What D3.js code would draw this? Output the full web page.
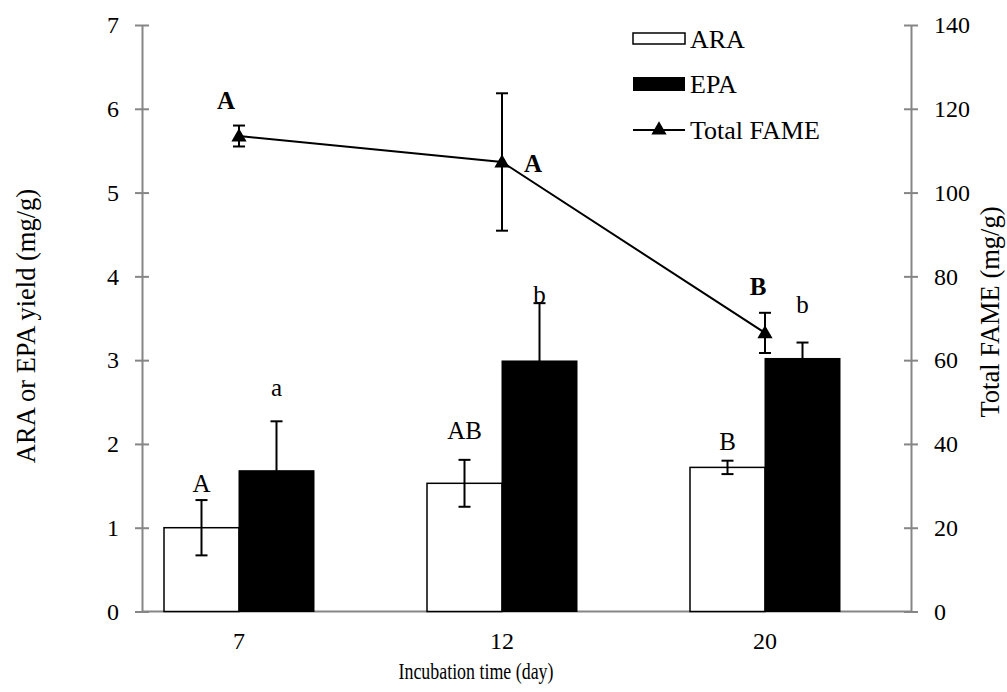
<!DOCTYPE html>
<html>
<head>
<meta charset="utf-8">
<script src="https://cdn.jsdelivr.net/npm/d3@7"></script>
<style>
    body { margin: 0; background: #fff; }
    text { font-family: "Liberation Serif", "Times New Roman", serif; fill: #000; }
</style>
</head>
<body>
<script>
// incubation time categories
var days = ["7", "12", "20"];

// ARA / EPA yield (mg/g), left axis
var ara = [1.00, 1.53, 1.72];
var araErr = [0.33, 0.28, 0.08];
var epa = [1.68, 2.99, 3.02];
var epaErr = [0.59, 0.69, 0.19];

// total FAME (mg/g), right axis
var fame = [113.5, 107.3, 66.5];
var fameErr = [2.5, 16.4, 4.8];

// significance letters
var araLetters = ["A", "AB", "B"];
var epaLetters = ["a", "b", "b"];
var fameLetters = ["A", "A", "B"];

var leftTicks = [0, 1, 2, 3, 4, 5, 6, 7];
var rightTicks = [0, 20, 40, 60, 80, 100, 120, 140];

// letter nudges in px (layout only)
var araNudge = [8, 21, 11];
var epaNudge = [25, 0, 30];
var fameNudge = [[-13, -17], [31, 10], [-7, -18]];

var W = 1007, H = 692;
var margin = {top: 25, right: 96, bottom: 80.5, left: 142};
var width = W - margin.left - margin.right,
    height = H - margin.top - margin.bottom;

var FONT = "Liberation Serif";
var tickFs = 24, titleFs = 26.5, legendFs = 26, letterFs = 25;

var svg = d3.select("body").append("svg")
    .attr("width", W)
    .attr("height", H);

var g = svg.append("g")
    .attr("transform", "translate(" + margin.left + "," + margin.top + ")");

var x = d3.scalePoint()
    .domain(days)
    .range([97, 623]);

var barW = 75;

var y = d3.scaleLinear().domain([0, 7]).range([height, 0]);
var y2 = d3.scaleLinear().domain([0, 140]).range([height, 0]);

var axisColor = "#868686";

// x axis line (no ticks)
g.append("line")
    .attr("x1", 0).attr("x2", width)
    .attr("y1", height).attr("y2", height)
    .attr("stroke", axisColor).attr("stroke-width", 2);

g.selectAll(".xlab").data(days).enter().append("text")
    .attr("x", function (d) { return x(d); })
    .attr("y", height + 37)
    .attr("text-anchor", "middle")
    .style("font-size", tickFs + "px")
    .text(function (d) { return d; });

function styleAxis(sel) {
    sel.attr("font-family", FONT).attr("font-size", tickFs);
    sel.select(".domain").attr("stroke", axisColor).attr("stroke-width", 2);
    sel.selectAll(".tick line").attr("stroke", axisColor).attr("stroke-width", 2)
        .attr("x1", -7).attr("x2", 7);
    sel.selectAll(".tick text").attr("fill", "#000");
}

// left axis
var yAxis = d3.axisLeft(y).tickValues(leftTicks).tickFormat(d3.format("d"))
    .tickSizeInner(7).tickSizeOuter(0).tickPadding(16);
g.append("g").call(yAxis).call(styleAxis);

// right axis
var yAxis2 = d3.axisRight(y2).tickValues(rightTicks).tickFormat(d3.format("d"))
    .tickSizeInner(7).tickSizeOuter(0).tickPadding(16);
g.append("g").attr("transform", "translate(" + width + ",0)").call(yAxis2).call(styleAxis);

// axis titles
svg.append("text")
    .attr("transform", "translate(35,326) rotate(-90)")
    .attr("text-anchor", "middle")
    .style("font-size", titleFs + "px")
    .text("ARA or EPA yield  (mg/g)");

svg.append("text")
    .attr("transform", "translate(999,312) rotate(-90)")
    .attr("text-anchor", "middle")
    .style("font-size", titleFs + "px")
    .text("Total FAME (mg/g)");

svg.append("text")
    .attr("x", 476)
    .attr("y", 679)
    .attr("text-anchor", "middle")
    .attr("textLength", 155)
    .attr("lengthAdjust", "spacingAndGlyphs")
    .style("font-size", "24px")
    .text("Incubation time (day)");

// bars
g.selectAll(".ara").data(ara).enter().append("rect")
    .attr("x", function (d, i) { return x(days[i]) - barW; })
    .attr("y", function (d) { return y(d); })
    .attr("width", barW)
    .attr("height", function (d) { return height - y(d); })
    .attr("fill", "#fff").attr("stroke", "#000").attr("stroke-width", 1.5);

g.selectAll(".epa").data(epa).enter().append("rect")
    .attr("x", function (d, i) { return x(days[i]); })
    .attr("y", function (d) { return y(d); })
    .attr("width", barW)
    .attr("height", function (d) { return height - y(d); })
    .attr("fill", "#000").attr("stroke", "#000").attr("stroke-width", 1);

function errBar(cx, yTop, yBot) {
    g.append("line").attr("x1", cx).attr("x2", cx).attr("y1", yTop).attr("y2", yBot)
        .attr("stroke", "#000").attr("stroke-width", 2);
    [yTop, yBot].forEach(function (yy) {
        g.append("line").attr("x1", cx - 6).attr("x2", cx + 6).attr("y1", yy).attr("y2", yy)
            .attr("stroke", "#000").attr("stroke-width", 2);
    });
}

ara.forEach(function (d, i) {
    var cx = x(days[i]) - barW / 2;
    errBar(cx, y(d + araErr[i]), y(d - araErr[i]));
    g.append("text")
        .attr("x", cx).attr("y", y(d + araErr[i]) - araNudge[i])
        .attr("text-anchor", "middle")
        .style("font-size", letterFs + "px")
        .text(araLetters[i]);
});

epa.forEach(function (d, i) {
    var cx = x(days[i]) + barW / 2;
    errBar(cx, y(d + epaErr[i]), y(d - epaErr[i]));
    g.append("text")
        .attr("x", cx).attr("y", y(d + epaErr[i]) - epaNudge[i])
        .attr("text-anchor", "middle")
        .style("font-size", letterFs + "px")
        .text(epaLetters[i]);
});

// total FAME line
var line = d3.line()
    .x(function (d, i) { return x(days[i]); })
    .y(function (d) { return y2(d); });

g.append("path").datum(fame)
    .attr("d", line)
    .attr("fill", "none").attr("stroke", "#000").attr("stroke-width", 2);

var tri = d3.symbol().type(d3.symbolTriangle).size(100);

fame.forEach(function (d, i) {
    var cx = x(days[i]);
    errBar(cx, y2(d + fameErr[i]), y2(d - fameErr[i]));
    g.append("path")
        .attr("d", tri)
        .attr("transform", "translate(" + cx + "," + (y2(d) + 1) + ")")
        .attr("fill", "#000");
    g.append("text")
        .attr("x", cx + fameNudge[i][0])
        .attr("y", (fameNudge[i][1] < 0 ? y2(d + fameErr[i]) : y2(d)) + fameNudge[i][1])
        .attr("text-anchor", "middle")
        .style("font-size", letterFs + "px")
        .style("font-weight", "bold")
        .text(fameLetters[i]);
});

// legend
var lg = svg.append("g").attr("transform", "translate(633,0)");
lg.append("rect").attr("x", 0).attr("y", 33).attr("width", 52).attr("height", 11)
    .attr("fill", "#fff").attr("stroke", "#000").attr("stroke-width", 1.5);
lg.append("text").attr("x", 57).attr("y", 48).style("font-size", legendFs + "px").text("ARA");
lg.append("rect").attr("x", 0).attr("y", 77).attr("width", 52).attr("height", 14)
    .attr("fill", "#000");
lg.append("text").attr("x", 57).attr("y", 93).style("font-size", legendFs + "px").text("EPA");
lg.append("line").attr("x1", 0).attr("x2", 52).attr("y1", 130).attr("y2", 130)
    .attr("stroke", "#000").attr("stroke-width", 2);
lg.append("path").attr("d", tri).attr("transform", "translate(26,130)").attr("fill", "#000");
lg.append("text").attr("x", 57).attr("y", 139).style("font-size", legendFs + "px").text("Total FAME");
</script>
</body>
</html>
